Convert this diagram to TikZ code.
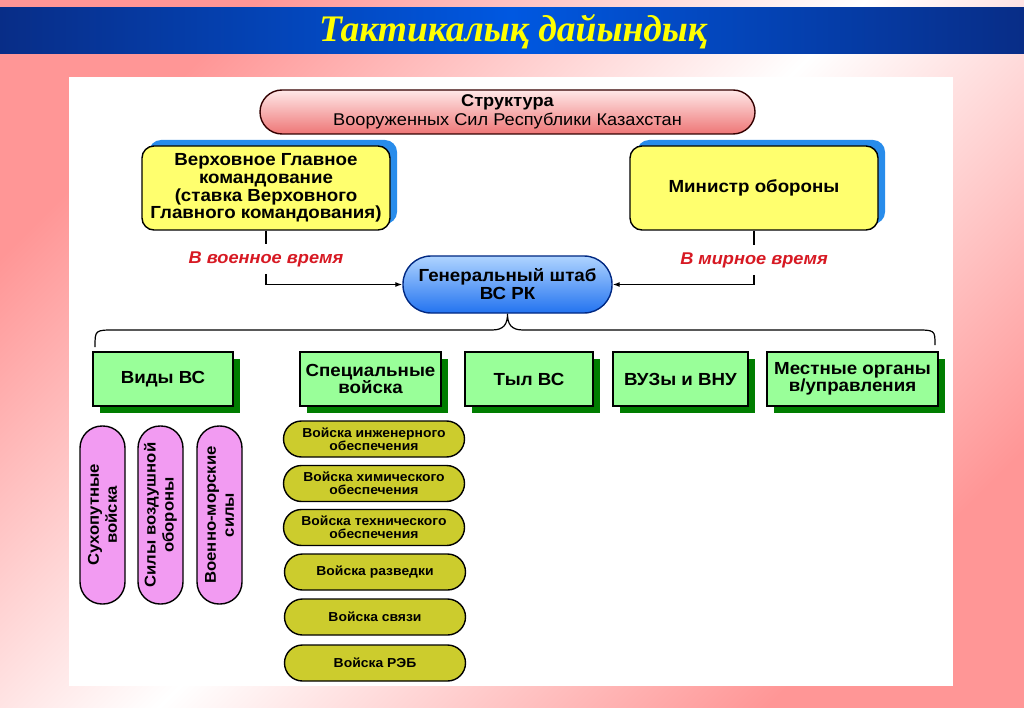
\documentclass[tikz,border=0pt]{standalone}
\usepackage{fontspec}
\setmainfont[FakeStretch=1.07]{Liberation Sans}
\newfontfamily\titlefont{Liberation Serif}
\usetikzlibrary{positioning, shadows, arrows.meta}

\definecolor{bgpink}{RGB}{255,150,150}
\definecolor{bardark}{RGB}{8,45,135}
\definecolor{barmid}{RGB}{0,88,225}
\definecolor{titleyel}{RGB}{255,255,0}
\definecolor{structtop}{RGB}{255,232,232}
\definecolor{structbot}{RGB}{238,118,118}
\definecolor{yelfill}{RGB}{255,255,110}
\definecolor{shblue}{RGB}{40,140,235}
\definecolor{gshtop}{RGB}{175,212,255}
\definecolor{gshbot}{RGB}{35,115,240}
\definecolor{gshline}{RGB}{0,40,130}
\definecolor{greenfill}{RGB}{153,255,153}
\definecolor{shgreen}{RGB}{0,125,0}
\definecolor{violetfill}{RGB}{242,155,242}
\definecolor{olivefill}{RGB}{204,204,45}
\definecolor{lblred}{RGB}{215,25,35}

\tikzset{
  box/.style={draw=black, line width=1.4pt, align=center, inner sep=2pt,
    font=\fontsize{17.5}{17.7}\selectfont\bfseries},
  structbox/.style={box, top color=structtop, bottom color=structbot, draw=black!80!red,
    rounded corners=22pt, minimum width=495pt, minimum height=44pt,
    font=\fontsize{17}{19}\selectfont},
  yellowbox/.style={box, fill=yelfill, rounded corners=12pt, minimum width=248pt,
    minimum height=84pt,
    drop shadow={shadow xshift=7pt, shadow yshift=6pt, fill=shblue, opacity=1}},
  gshbox/.style={box, top color=gshtop, bottom color=gshbot, draw=gshline,
    rounded corners=28pt, minimum width=209pt, minimum height=57pt,
    font=\fontsize{17.5}{18}\selectfont\bfseries},
  greenbox/.style={box, fill=greenfill, minimum height=54pt,
    font=\fontsize{17.5}{16.5}\selectfont\bfseries,
    drop shadow={shadow xshift=7pt, shadow yshift=-7pt, fill=shgreen, opacity=1}},
  violetpill/.style={box, fill=violetfill, rotate=90, rounded corners=22pt,
    minimum width=178pt, minimum height=45pt, font=\fontsize{15.6}{18}\selectfont\bfseries},
  olivepill/.style={box, fill=olivefill, rounded corners=18pt, minimum width=181pt,
    minimum height=36pt, font=\fontsize{13}{13.3}\selectfont\bfseries},
  redlbl/.style={text=lblred, inner xsep=2pt, inner ysep=7pt,
    font=\fontsize{17}{18}\selectfont\bfseries\itshape},
  conn/.style={line width=1.2pt, black}
}

\begin{document}
\begin{tikzpicture}[x=1pt, y=-1pt]
  \useasboundingbox (0,0) rectangle (1024,708);
  % background
  \shade[top color=bgpink, bottom color=bgpink, middle color=white, shading angle=45]
    (0,0) rectangle (1024,708);
  \shade[left color=bardark, right color=bardark, middle color=barmid] (0,8) rectangle (1024,54);
  \node[text=titleyel, font=\titlefont\fontsize{37.5}{40}\selectfont\bfseries\itshape] (title)
    at (513,32) {Тактикалық дайындық};
  \fill[white] (69,77) rectangle (953,686);

  % top level
  \node[structbox] (struct) at (507.5,112) {\textbf{Структура}\\Вооруженных Сил Республики Казахстан};
  \node[yellowbox] (vgk) at (266,188) {Верховное Главное\\командование\\(ставка Верховного\\Главного командования)};
  \node[yellowbox] (minob) at (754,188) {Министр обороны};
  \node[gshbox] (gsh) at (507.5,284.5) {Генеральный штаб\\ВС РК};

  \node[redlbl] (lwar) at (266,259) {В военное время};
  \node[redlbl] (lpeace) at (754,260) {В мирное время};
  \draw[conn] (vgk.south) -- (lwar.north);
  \draw[conn, -{Latex[length=7pt, width=5pt]}] (lwar.south) |- (gsh.west);
  \draw[conn] (minob.south) -- (lpeace.north);
  \draw[conn, -{Latex[length=7pt, width=5pt]}] (lpeace.south) |- (gsh.east);

  % second row
  \node[greenbox, minimum width=140pt] (vidy) at (163,379) {Виды ВС};
  \node[greenbox, minimum width=141pt] (spec) at (370.5,379) {Специальные\\войска};
  \node[greenbox, minimum width=128pt] (tyl) at (529,379) {Тыл ВС};
  \node[greenbox, minimum width=135pt] (vuz) at (680.5,379) {ВУЗы и ВНУ};
  \node[greenbox, minimum width=171pt] (mest) at (852.5,379) {Местные органы\\в/управления};

  % brace
  \coordinate (bl) at (95,347);
  \coordinate (br) at (935,345);
  \draw[conn] (bl) .. controls (95,330) .. (115,330) -- (492,330)
    .. controls (504,330) and (507.5,324) .. (gsh.south)
    .. controls (507.5,324) and (511,330) .. (523,330) -- (915,330)
    .. controls (935,330) .. (br);

  % kinds of forces
  \node[violetpill] (suh) at (102.5,515) {Сухопутные\\войска};
  \node[violetpill] (pvo) at (160.5,515) {Силы воздушной\\обороны};
  \node[violetpill] (vms) at (219.5,515) {Военно-морские\\силы};

  % special troops
  \node[olivepill] (ing) at (374,439) {Войска инженерного\\обеспечения};
  \node[olivepill] (him) at (374,483.5) {Войска химического\\обеспечения};
  \node[olivepill] (teh) at (374,527.5) {Войска технического\\обеспечения};
  \node[olivepill] (razv) at (375,572) {Войска разведки};
  \node[olivepill] (svyaz) at (375,617) {Войска связи};
  \node[olivepill] (reb) at (375,663) {Войска РЭБ};
\end{tikzpicture}
\end{document}
